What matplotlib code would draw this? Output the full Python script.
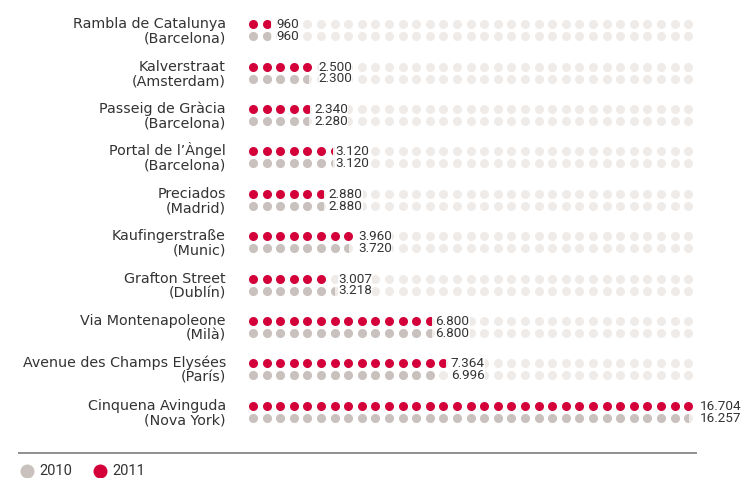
import matplotlib
matplotlib.use('Agg')
import matplotlib.pyplot as plt
from matplotlib.patches import Rectangle
import numpy as np

# ---- data ----
streets = ["Rambla de Catalunya", "Kalverstraat", "Passeig de Gràcia", "Portal de l’Àngel",
           "Preciados", "Kaufingerstraße", "Grafton Street", "Via Montenapoleone",
           "Avenue des Champs Elysées", "Cinquena Avinguda"]
cities = ["(Barcelona)", "(Amsterdam)", "(Barcelona)", "(Barcelona)", "(Madrid)",
          "(Munic)", "(Dublín)", "(Milà)", "(París)", "(Nova York)"]
values_2011 = [960, 2500, 2340, 3120, 2880, 3960, 3007, 6800, 7364, 16704]
values_2010 = [960, 2300, 2280, 3120, 2880, 3720, 3218, 6800, 6996, 16257]
series_labels = ["2010", "2011"]

# ---- style ----
RED = "#D3003A"
GREY = "#C9C1BD"
BG = "#EFEBE9"
TXT = "#333333"
UNIT = 500          # value per dot
NDOTS = 33          # dots per row

W, H = 744, 478
X0, DX = 253.0, 13.6    # pixel of first dot, pixel spacing of dots
Y0, DY = 24.3, 42.4     # pixel of first row, pixel spacing of rows
R_PX = 4.5              # dot radius (px)
GREY_OFF_PX = 11.9

def px2x(p):
    return (p - X0) / DX

def px2y(p):
    return (p - Y0) / DY

def fmt(v):
    return f"{v:,}".replace(",", ".")

fig = plt.figure(figsize=(W / 100, H / 100), dpi=100)
ax = fig.add_axes([0, 0, 1, 1])
ax.set_xlim(px2x(0), px2x(W))
ax.set_ylim(px2y(H), px2y(0))
ax.axis('off')

s_dot = (2 * R_PX * 0.72) ** 2
rx = R_PX / DX
ry = R_PX / DY
xs = np.arange(NDOTS)

def draw_row(y, v, color):
    ax.scatter(xs, np.full(NDOTS, y), s=s_dot, color=BG, lw=0, zorder=1)
    n = min(v / UNIT, NDOTS)
    full = int(np.floor(n))
    if full > 0:
        ax.scatter(xs[:full], np.full(full, y), s=s_dot, color=color, lw=0, zorder=2)
    frac = n - full
    if frac > 0 and full < NDOTS:
        sc = ax.scatter([xs[full]], [y], s=s_dot, color=color, lw=0, zorder=2)
        rect = Rectangle((xs[full] - rx, y - 2 * ry), frac * 2 * rx, 4 * ry,
                         transform=ax.transData)
        sc.set_clip_path(rect)
    return n

goff = GREY_OFF_PX / DY
num_font = ['Roboto', 'DejaVu Sans']
for i, (st, ci, v11, v10) in enumerate(zip(streets, cities, values_2011, values_2010)):
    y_red = i
    y_grey = i + goff
    n1 = draw_row(y_red, v11, RED)
    n0 = draw_row(y_grey, v10, GREY)
    lx = min(max(n0, n1), NDOTS) - 0.5 + 0.32
    for yy, vv in [(y_red, v11), (y_grey, v10)]:
        ax.text(lx, yy + 0.4 / DY, fmt(vv), ha='left', va='center', fontsize=9.7,
                family=num_font, color=TXT, zorder=5,
                bbox=dict(boxstyle='square,pad=0.0', fc='white', ec='none'))
    ax.text(px2x(226), y_red + 4.0 / DY, st, ha='right', va='baseline',
            fontsize=10.3, color=TXT)
    ax.text(px2x(226), y_grey + 6.5 / DY, ci, ha='right', va='baseline',
            fontsize=10.3, color=TXT)

# separator line
ax.plot([px2x(18), px2x(697)], [px2y(453), px2y(453)], color="#7d7d7d", lw=1.2,
        solid_capstyle='butt')

# legend
s_leg = (14 * 0.72) ** 2
ly = px2y(471)
ax.scatter([px2x(27)], [ly], s=s_leg, color=GREY, lw=0, clip_on=False)
ax.text(px2x(39), ly, series_labels[0], ha='left', va='center', fontsize=10.5,
        family=num_font, color=TXT)
ax.scatter([px2x(100)], [ly], s=s_leg, color=RED, lw=0, clip_on=False)
ax.text(px2x(112), ly, series_labels[1], ha='left', va='center', fontsize=10.5,
        family=num_font, color=TXT)

fig.savefig("out.png", dpi=100)
